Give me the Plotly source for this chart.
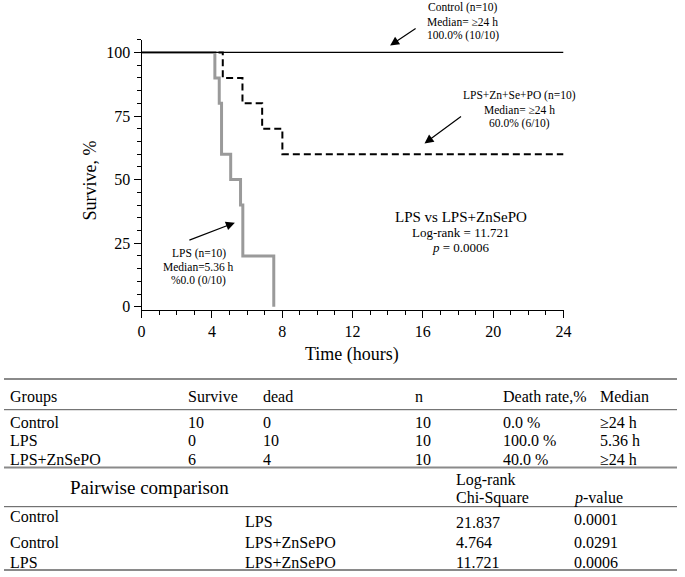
import plotly.graph_objects as go

W, H = 685, 577
FONT = "Liberation Serif, Times New Roman, serif"

# ---------------- data ----------------
# Kaplan-Meier curves (time in hours, survival in %)
control_t = [0, 24]
control_s = [100, 100]

lps_t = [0, 4.17, 4.42, 4.55, 5.07, 5.63, 5.76, 7.52]
lps_s = [100, 90, 80, 60, 50, 40, 20, 0]

zsp_t = [0, 4.62, 5.74, 6.86, 8.01, 24]
zsp_s = [100, 90, 80, 70, 60, 60]

x_ticks = [0, 4, 8, 12, 16, 20, 24]
y_ticks = [0, 25, 50, 75, 100]

# summary table
tbl_header = ["Groups", "Survive", "dead", "n", "Death rate,%", "Median"]
groups = ["Control", "LPS", "LPS+ZnSePO"]
survive = [10, 0, 6]
dead = [0, 10, 4]
n_animals = [10, 10, 10]
death_rate = ["0.0 %", "100.0 %", "40.0 %"]
median = ["≥24 h", "5.36 h", "≥24 h"]

# pairwise comparisons
pair_a = ["Control", "Control", "LPS"]
pair_b = ["LPS", "LPS+ZnSePO", "LPS+ZnSePO"]
chi_sq = ["21.837", "4.764", "11.721"]
p_val = ["0.0001", "0.0291", "0.0006"]


def PX(x):
    return x / W


def PY(y):
    return 1 - y / H


fig = go.Figure()
fig.add_trace(go.Scatter(x=zsp_t, y=zsp_s, mode="lines", line_shape="hv",
                         line=dict(color="black", width=2, dash="7px,4px"),
                         showlegend=False, hoverinfo="skip"))
fig.add_trace(go.Scatter(x=lps_t, y=lps_s, mode="lines", line_shape="hv",
                         line=dict(color="#9a9a9a", width=3),
                         showlegend=False, hoverinfo="skip"))
fig.add_trace(go.Scatter(x=control_t, y=control_s, mode="lines", line_shape="hv",
                         line=dict(color="black", width=1.2),
                         showlegend=False, hoverinfo="skip"))

ann = []


def txt(x, y, text, size, xanchor="center"):
    ann.append(dict(x=PX(x), y=PY(y), xref="paper", yref="paper", text=text,
                    showarrow=False, xanchor=xanchor, yanchor="middle",
                    font=dict(size=size, family=FONT, color="black")))


def arrow(tx, ty, hx, hy):
    ann.append(dict(x=PX(hx), y=PY(hy), xref="paper", yref="paper", text="",
                    showarrow=True, ax=tx - hx, ay=ty - hy,
                    arrowhead=2, arrowsize=1.5, arrowwidth=1.2, arrowcolor="black"))


# curve annotations
for i, s in enumerate(["Control (n=10)", "Median= ≥24 h", "100.0% (10/10)"]):
    txt(467, 8 + 14 * i, s, 11.5)
arrow(420, 28, 393, 46)

for i, s in enumerate(["LPS+Zn+Se+PO (n=10)", "Median= ≥24 h", "60.0% (6/10)"]):
    txt(525, 97 + 14 * i, s, 11.5)
arrow(466, 117, 428, 145)

for i, s in enumerate(["LPS (n=10)", "Median=5.36 h", "%0.0 (0/10)"]):
    txt(198, 256 + 13.5 * i, s, 11.5)
arrow(188, 243, 235, 225)

txt(465, 219, "LPS vs LPS+ZnSePO", 15)
txt(465, 235, "Log-rank = 11.721", 13)
txt(465, 250, "<i>p</i> = 0.0006", 13)

# axis titles
txt(354, 358, "Time (hours)", 18)
ann.append(dict(x=PX(88), y=PY(182), xref="paper", yref="paper", text="Survive, %",
                showarrow=False, textangle=-90, xanchor="center", yanchor="middle",
                font=dict(size=18, family=FONT, color="black")))

# ---------------- table ----------------
TS = 16
col_x = [4, 185, 262, 416, 506, 605]
for cx, h in zip(col_x, tbl_header):
    txt(cx, 401, h, TS, "left")
row_y = [427, 445.5, 464]
for i in range(len(groups)):
    vals = [groups[i], str(survive[i]), str(dead[i]), str(n_animals[i]),
            death_rate[i], median[i]]
    for cx, v in zip(col_x, vals):
        txt(cx, row_y[i], v, TS, "left")

txt(148, 493, "Pairwise comparison", 19)
txt(458, 485.5, "Log-rank", TS, "left")
txt(458, 503, "Chi-Square", TS, "left")
txt(578, 503, "<i>p</i>-value", TS, "left")

pair_rows = [(522, 527, 528, 525), (548.5, 548.5, 548.5, 548.5), (568, 568, 568, 568)]
for i in range(len(pair_a)):
    ya, yb, yc, yp = pair_rows[i]
    txt(4, ya, pair_a[i], TS, "left")
    txt(243, yb, pair_b[i], TS, "left")
    txt(458, yc, chi_sq[i], TS, "left")
    txt(578, yp, p_val[i], TS, "left")

shapes = []
for yy, w, c in [(383, 2, "#8a8a8a"), (414, 1, "#555555"), (472.5, 2, "#8a8a8a"),
                 (512, 1, "#555555"), (576, 2, "#8a8a8a")]:
    shapes.append(dict(type="line", xref="paper", yref="paper", x0=0, x1=1,
                       y0=PY(yy), y1=PY(yy), line=dict(color=c, width=w)))

fig.update_layout(
    width=W, height=H,
    margin=dict(l=0, r=0, t=0, b=0),
    paper_bgcolor="white", plot_bgcolor="white",
    font=dict(family=FONT, color="black", size=16),
    showlegend=False,
    annotations=ann,
    shapes=shapes,
    xaxis=dict(domain=[PX(140), PX(569.5)], range=[0, 24],
               tickvals=x_ticks, ticktext=[str(v) for v in x_ticks],
               ticks="outside", ticklen=7, tickwidth=1, tickcolor="black",
               minor=dict(dtick=1, tick0=0, ticks="outside", ticklen=4,
                          tickcolor="black", tickwidth=1),
               showline=True, linecolor="black", linewidth=1,
               showgrid=False, zeroline=False,
               tickfont=dict(size=16, family=FONT, color="black"),
               anchor="y"),
    yaxis=dict(domain=[PY(313), PY(40)], range=[-1.17, 105.06],
               tickvals=y_ticks, ticktext=[str(v) for v in y_ticks],
               ticks="outside", ticklen=7, tickwidth=1, tickcolor="black",
               minor=dict(dtick=5, tick0=0, ticks="outside", ticklen=4,
                          tickcolor="black", tickwidth=1),
               showline=True, linecolor="black", linewidth=1,
               showgrid=False, zeroline=False,
               tickfont=dict(size=16, family=FONT, color="black"),
               anchor="x"),
)

fig.write_html("out.html",
               config={"displayModeBar": False},
               post_script="document.body.style.margin='0';"
                           "document.body.style.overflow='hidden';")
